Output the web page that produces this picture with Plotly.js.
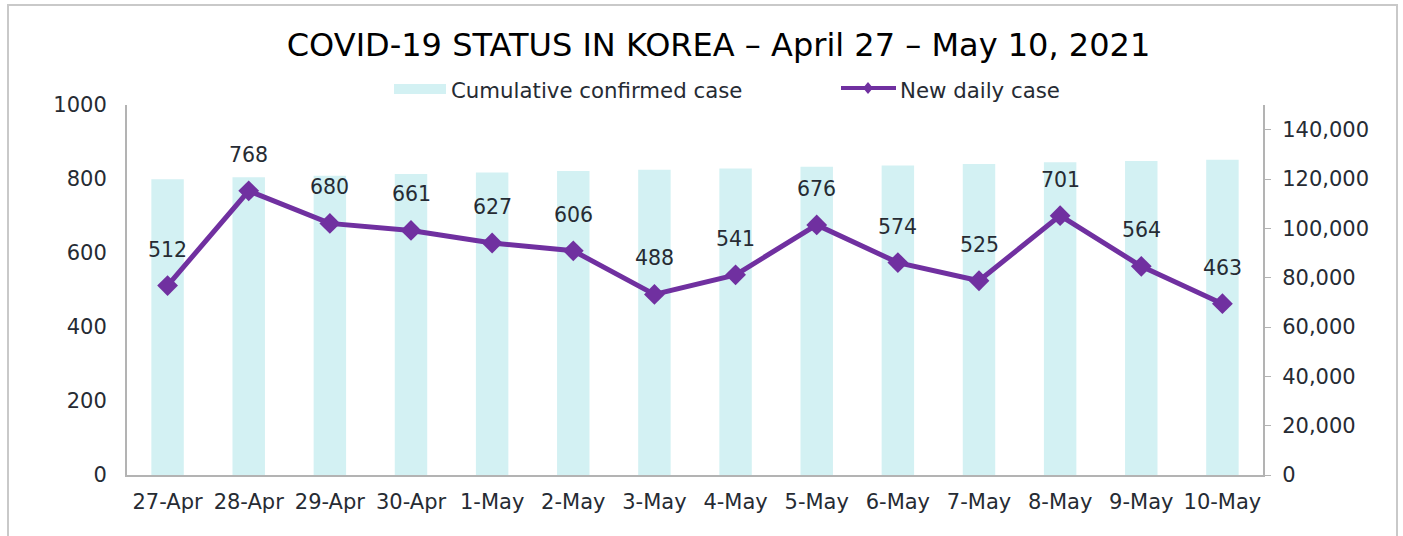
<!DOCTYPE html>
<html>
<head>
<meta charset="utf-8">
<script src="https://cdn.plot.ly/plotly-3.0.1.min.js"></script>
<style>
  html, body { margin: 0; padding: 0; background: #fff; }
  #wrap { position: relative; width: 1403px; height: 536px; overflow: hidden; }
  #chart { width: 1403px; height: 536px; }
  #frame { position: absolute; left: 7px; top: 4px; width: 1387px; height: 620px;
           border: 2px solid #c9c9c9; pointer-events: none; }
</style>
</head>
<body>
<div id="wrap">
  <div id="chart"></div>
  <div id="frame"></div>
</div>
<script>
const categories = ['27-Apr','28-Apr','29-Apr','30-Apr','1-May','2-May','3-May','4-May','5-May','6-May','7-May','8-May','9-May','10-May'];
const cumulativeCases = [119898,120673,121351,122007,122634,123240,123728,124269,124945,125519,126044,126745,127309,127772];
const newDailyCases = [512,768,680,661,627,606,488,541,676,574,525,701,564,463];
const leftTicks = [0,200,400,600,800,1000];
const rightTicks = [0,20000,40000,60000,80000,100000,120000,140000];
const seriesNames = ['Cumulative confirmed case', 'New daily case'];

const FONT = 'DejaVu Sans, sans-serif';
const TXT = '#262b33';
const PURPLE = '#7030a0';
const BARCOL = '#d3f1f3';

const W = 1403, H = 536;
const M = { l: 127, r: 140, t: 105, b: 61 };
const PW = W - M.l - M.r, PH = H - M.t - M.b;
const xp = px => (px - M.l) / PW;
const yp = py => (H - M.b - py) / PH;

const traces = [
  {
    type: 'bar', name: seriesNames[0],
    x: categories, y: cumulativeCases, yaxis: 'y',
    marker: { color: BARCOL }, showlegend: false
  },
  {
    type: 'scatter', mode: 'lines+markers', name: seriesNames[1],
    x: categories, y: newDailyCases, yaxis: 'y2',
    line: { color: PURPLE, width: 5 },
    marker: { symbol: 'diamond', size: 16, color: PURPLE }, showlegend: false
  }
];

const annotations = categories.map((c, i) => ({
  x: c, y: newDailyCases[i], xref: 'x', yref: 'y2',
  text: String(newDailyCases[i]), showarrow: false,
  yshift: 36, font: { family: FONT, size: 20.5, color: TXT }
}));

// custom legend (wide swatches like the reference)
annotations.push(
  { xref: 'paper', yref: 'paper', x: xp(449), y: yp(91), xanchor: 'left', yanchor: 'middle',
    text: seriesNames[0], showarrow: false, font: { family: FONT, size: 21.3, color: TXT } },
  { xref: 'paper', yref: 'paper', x: xp(898), y: yp(91), xanchor: 'left', yanchor: 'middle',
    text: seriesNames[1], showarrow: false, font: { family: FONT, size: 21.3, color: TXT } }
);
const dx = 5 / PW, dy = 6 / PH, cx = xp(868), cy = yp(88);
const shapes = [
  { type: 'rect', xref: 'paper', yref: 'paper', x0: xp(394), x1: xp(446), y0: yp(94), y1: yp(84),
    fillcolor: BARCOL, line: { width: 0 } },
  { type: 'line', xref: 'paper', yref: 'paper', x0: xp(841), x1: xp(896), y0: yp(88), y1: yp(88),
    line: { color: PURPLE, width: 4 } },
  { type: 'path', xref: 'paper', yref: 'paper',
    path: `M ${cx - dx} ${cy} L ${cx} ${cy + dy} L ${cx + dx} ${cy} L ${cx} ${cy - dy} Z`,
    fillcolor: PURPLE, line: { width: 0 } }
];

const layout = {
  width: W, height: H,
  margin: M,
  paper_bgcolor: '#fff', plot_bgcolor: '#fff',
  font: { family: FONT, color: TXT, size: 20 },
  title: {
    text: 'COVID-19 STATUS IN KOREA – April 27 – May 10, 2021',
    font: { family: FONT, size: 32, color: '#000' },
    xref: 'container', x: 718.5 / W, xanchor: 'center',
    yref: 'container', y: 1 - 45 / H, yanchor: 'middle'
  },
  bargap: 0.6,
  showlegend: false,
  xaxis: {
    type: 'category', range: [-0.5, categories.length - 0.5],
    showgrid: false, zeroline: false,
    showline: true, linecolor: '#b3b3b3', linewidth: 2,
    ticks: '', ticklabelstandoff: 7,
    tickfont: { family: FONT, size: 21, color: TXT }
  },
  yaxis: {
    side: 'right', range: [0, 150000],
    tickvals: rightTicks, ticktext: rightTicks.map(v => v.toLocaleString('en-US')),
    showgrid: false, zeroline: false,
    showline: true, linecolor: '#b3b3b3', linewidth: 2,
    ticks: 'outside', ticklen: 6, tickcolor: '#b3b3b3', tickwidth: 1,
    ticklabelstandoff: 7,
    tickfont: { family: FONT, size: 21, color: TXT }
  },
  yaxis2: {
    overlaying: 'y', side: 'left', range: [0, 1000],
    tickvals: leftTicks,
    showgrid: false, zeroline: false,
    showline: true, linecolor: '#b3b3b3', linewidth: 2,
    ticks: '', ticklabelstandoff: 14,
    tickfont: { family: FONT, size: 21, color: TXT }
  },
  annotations: annotations,
  shapes: shapes
};

Plotly.newPlot('chart', traces, layout, { displayModeBar: false, staticPlot: true });
</script>
</body>
</html>
